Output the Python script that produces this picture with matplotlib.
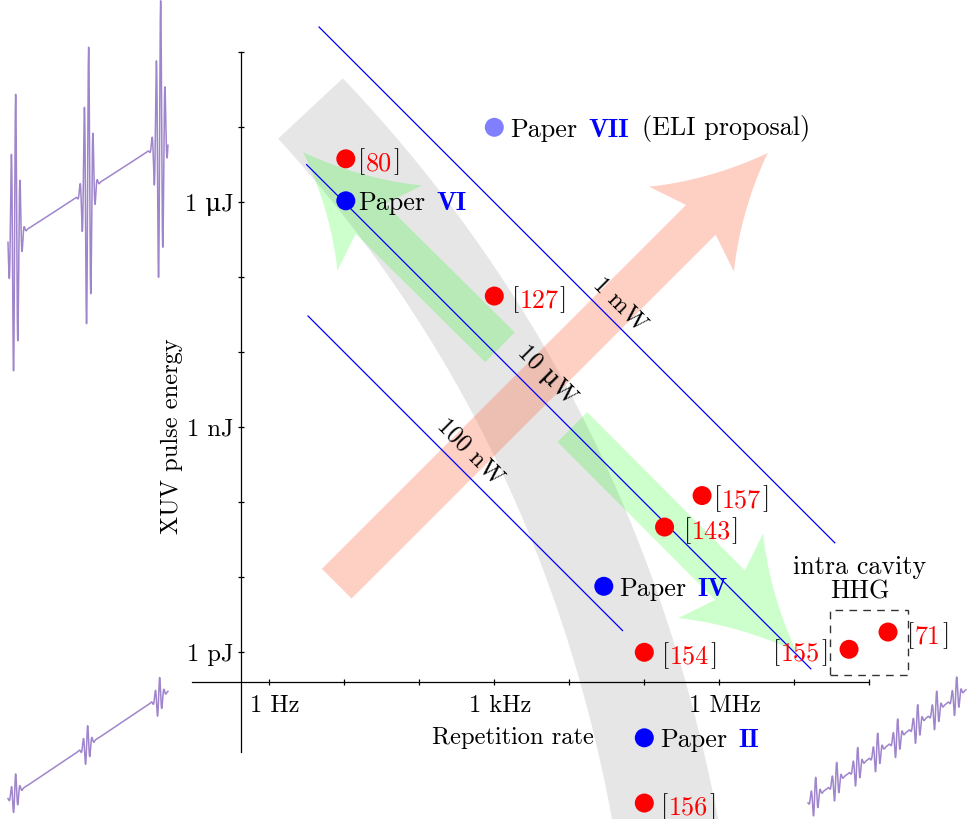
import numpy as np
import matplotlib
matplotlib.use("Agg")
import matplotlib.pyplot as plt
from matplotlib.patches import Polygon

REG = ["cmr10", "DejaVu Serif"]
BOLD = ["cmb10", "DejaVu Serif"]
plt.rcParams["font.family"] = REG
plt.rcParams["axes.unicode_minus"] = False

# ---------------- data (log10 Hz, log10 J) ----------------
ref_names = ["80", "127", "157", "143", "154", "155", "71", "156"]
ref_logf = [1.02, 3.00, 5.77, 5.27, 5.00, 7.73, 8.25, 5.00]
ref_logE = [-5.42, -7.25, -9.91, -10.33, -12.00, -11.96, -11.73, -14.01]

paper_names = ["VI", "IV", "II"]
paper_logf = [1.02, 4.46, 5.00]
paper_logE = [-5.98, -11.12, -13.14]

proposal_name = "VII"
proposal_note = "(ELI proposal)"
proposal_logf = [3.00]
proposal_logE = [-5.00]

power_names = ["1 mW", "10 μW", "100 nW"]
power_logP = [-3.0, -5.0, -7.0]

xtick_exps = list(range(0, 9))
ytick_exps = list(range(-12, -3))
xtick_text = {0: "1 Hz", 3: "1 kHz", 6: "1 MHz"}
ytick_text = {-6: "1 μJ", -9: "1 nJ", -12: "1 pJ"}

# ---------------- layout (in decades) ----------------
W, H = 969, 820
X0, Y0, S = 269.3, 203.3, 75.0          # pixel of 1 Hz, pixel of 1 uJ, px per decade
XLIM = (-X0 / S, (W - X0) / S)
YLIM = (-6 - (H - Y0) / S, -6 + Y0 / S)
AXIS_X = -0.38                           # y-axis drawn at this log f
AXIS_Y = -12.40                          # x-axis drawn at this log E
power_frange = [(0.663, 7.54), (0.497, 7.22), (0.516, 4.71)]
power_label_pos = [(4.676, -7.356), (3.699, -8.289), (2.676, -9.315)]
ref_label_dx = [9.0, 12.7, 8.6, 13.7, 12.7, 15.0, 13.7, 12.2]
ref_label_side = ["right", "right", "right", "right", "right", "left", "right", "right"]
paper_label_dx = [9.0, 11.0, 11.5]
proposal_label_dx = 11.5

FS_ANN = 18.8
FS_AX = 17.6

fig = plt.figure(figsize=(W / 100, H / 100), dpi=100)
fig.patch.set_facecolor("white")
ax = fig.add_axes([0, 0, 1, 1])
ax.set_xscale("log")
ax.set_yscale("log")
ax.set_autoscale_on(False)


def D(a):
    return 10.0 ** np.asarray(a, float)


# ---------------- background shapes ----------------
def band_verts(p0, p1, p2, hw0, hw1, n=200):
    p0, p1, p2 = (np.asarray(p, float) for p in (p0, p1, p2))
    t = np.linspace(0, 1, n)[:, None]
    B = (1 - t) ** 2 * p0 + 2 * (1 - t) * t * p1 + t ** 2 * p2
    Dv = 2 * (1 - t) * (p1 - p0) + 2 * t * (p2 - p1)
    Dv /= np.hypot(Dv[:, 0], Dv[:, 1])[:, None]
    N = np.column_stack([-Dv[:, 1], Dv[:, 0]])
    hw = hw0 + (hw1 - hw0) * t
    return np.vstack([B + N * hw, (B - N * hw)[::-1]])


def arrow_verts(tail, tip, shaft_hw=0.28, notch=1.26, barb=1.436, head_hw=0.80,
                ctrl=(0.80, 0.29), n=40):
    tail = np.asarray(tail, float)
    tip = np.asarray(tip, float)
    u = tip - tail
    L = np.hypot(*u)
    u /= L
    nrm = np.array([-u[1], u[0]])

    def P(a, p):
        return tip - a * u + p * nrm

    t = np.linspace(0, 1, n)[:, None]

    def flank(sgn):
        p1 = np.array([ctrl[0], sgn * ctrl[1]])
        p2 = np.array([barb, sgn * head_hw])
        q = 2 * (1 - t) * t * p1 + t ** 2 * p2
        return np.array([P(a, p) for a, p in q])

    fp = flank(1)
    fn = flank(-1)
    return np.vstack([fp, [P(notch, shaft_hw)], [P(L, shaft_hw)],
                      [P(L, -shaft_hw)], [P(notch, -shaft_hw)], fn[::-1]])


band = band_verts((0.549, -4.749), (4.409, -8.889), (5.37, -14.755), 0.59, 0.70)
ax.add_patch(Polygon(D(band), closed=True, fc="#e6e6e6", ec="none", zorder=1))

green = (0.0, 1.0, 0.0)
salmon = (0.98, 0.43, 0.27)
for tail, tip in [((3.076, -7.933), (0.453, -5.333)), ((4.04, -8.996), (7.032, -11.996))]:
    ax.add_patch(Polygon(D(arrow_verts(tail, tip)), closed=True, fc=green, alpha=0.2,
                         ec="none", zorder=2))
ax.add_patch(Polygon(D(arrow_verts((0.899, -11.085), (6.645, -5.343))), closed=True,
                     fc=salmon, alpha=0.32, ec="none", zorder=2))

# ---------------- iso-power lines ----------------
for P, (f0, f1), name, (lx, ly) in zip(power_logP, power_frange, power_names, power_label_pos):
    f = np.array([f0, f1])
    ax.plot(D(f), D(P - f), color="blue", lw=0.9, zorder=3)
    ax.text(D(lx), D(ly), name, rotation=-45, rotation_mode="anchor", ha="center",
            va="center", fontsize=FS_AX, zorder=6)

# ---------------- intra-cavity box ----------------
bx0, bx1, by0, by1 = 7.476, 8.512, -12.303, -11.436
box = np.array([[bx0, by0], [bx1, by0], [bx1, by1], [bx0, by1]])
ax.add_patch(Polygon(D(box), closed=True, fill=False, ec="#333333", lw=1.0,
                     ls=(0, (5.5, 4.5)), zorder=3))
ax.text(D(7.875), D(-11.009), "intra cavity\nHHG", ha="center", va="center",
        multialignment="center", fontsize=FS_ANN, linespacing=1.05, zorder=6)

# ---------------- points ----------------
MS = 187
ax.scatter(D(ref_logf), D(ref_logE), s=MS, c="red", edgecolors="none", zorder=5)
ax.scatter(D(paper_logf), D(paper_logE), s=MS, c="blue", edgecolors="none", zorder=5)
ax.scatter(D(proposal_logf), D(proposal_logE), s=MS, c="#8080ff", edgecolors="none", zorder=5)


def rich(x, y, parts, dx, fs=FS_ANN, side="right"):
    order = list(range(len(parts))) if side == "right" else list(range(len(parts)))[::-1]
    prev = None
    for i in order:
        text, color, bold = parts[i][:3]
        kw = dict(color=color, fontsize=fs, family=BOLD if bold else REG, zorder=6,
                  annotation_clip=False)
        if prev is None:
            prev = ax.annotate(text, xy=(x, y),
                               xytext=(dx if side == "right" else -dx, -0.33 * fs),
                               textcoords="offset points",
                               ha="left" if side == "right" else "right",
                               va="baseline", **kw)
        elif side == "right":
            prev = ax.annotate(text, xy=(1, 0), xycoords=prev, xytext=(parts[i][3], 0),
                               textcoords="offset points", ha="left", va="bottom", **kw)
        else:
            prev = ax.annotate(text, xy=(0, 0), xycoords=prev,
                               xytext=(-parts[i + 1][3], 0),
                               textcoords="offset points", ha="right", va="bottom", **kw)


for name, lf, le, dx, side in zip(ref_names, ref_logf, ref_logE, ref_label_dx, ref_label_side):
    rich(D(lf), D(le), [("[", "black", False, 0), (name, "red", False, 0.5),
                        ("]", "black", False, 0.7)], dx, side=side)
for name, lf, le, dx in zip(paper_names, paper_logf, paper_logE, paper_label_dx):
    rich(D(lf), D(le), [("Paper", "black", False, 0), (name, "blue", True, 8.0)], dx)
rich(D(proposal_logf[0]), D(proposal_logE[0]),
     [("Paper", "black", False, 0), (proposal_name, "blue", True, 8.0),
      (proposal_note, "black", False, 9.0)], proposal_label_dx)

# ---------------- axes ----------------
for s in ["top", "right"]:
    ax.spines[s].set_visible(False)
ax.spines["left"].set_position(("data", D(AXIS_X)))
ax.spines["bottom"].set_position(("data", D(AXIS_Y)))
ax.spines["left"].set_bounds(D(-13.33), D(-4))
ax.spines["bottom"].set_bounds(D(-1.03), D(8))
for s in ["left", "bottom"]:
    ax.spines[s].set_linewidth(0.9)
    ax.spines[s].set_zorder(4)
ax.set_xticks(D(xtick_exps))
ax.set_yticks(D(ytick_exps))
ax.minorticks_off()
ax.set_xticklabels([])
ax.set_yticklabels([])
ax.tick_params(which="both", direction="inout", length=5, width=0.9)
ax.set_xlim(D(XLIM[0]), D(XLIM[1]))
ax.set_ylim(D(YLIM[0]), D(YLIM[1]))

for k, t in xtick_text.items():
    ax.annotate(t, xy=(D(k), D(AXIS_Y)), xytext=(4, -8.6), textcoords="offset points",
                ha="center", va="top", fontsize=FS_AX, annotation_clip=False)
for k, t in ytick_text.items():
    ax.annotate(t, xy=(D(AXIS_X), D(k)), xytext=(-5.3, -0.31 * FS_AX),
                textcoords="offset points", ha="right", va="baseline", fontsize=FS_AX,
                annotation_clip=False)
ax.text(D(3.245), D(-13.129), "Repetition rate", ha="center", va="center", fontsize=FS_AX)
ax.text(D(-1.297), D(-9.103), "XUV pulse energy", ha="center", va="center",
        rotation=90, fontsize=FS_AX)

# ---------------- decorative pulse trains ----------------
deco = fig.add_axes([0, 0, 1, 1], zorder=5)
deco.set_xlim(0, W)
deco.set_ylim(H, 0)
deco.axis("off")
deco.patch.set_visible(False)
purple = "#9f85cc"


def pulse_train(x0, x1, y0, slope, centers, amp, sigma, lam):
    x = np.arange(x0, x1, 0.05)
    y = y0 + slope * (x - x0)
    for c in centers:
        y = y - amp * np.exp(-((x - c) / sigma) ** 2) * np.sin(2 * np.pi * (x - c) / lam + 0.6)
    deco.plot(x, y, color=purple, lw=1.1)


pulse_train(8, 168, 242.7, -0.645, [15, 88, 160], 145, 5.0, 4.4)
pulse_train(8, 168, 799.5, -0.669, [15, 87, 159], 20, 4.2, 4.4)
pulse_train(808, 966, 803.3, -0.712, [815, 836, 857, 877, 897, 917, 936, 956], 20, 4.2, 4.6)

fig.savefig("out.png", dpi=100, facecolor="white")
